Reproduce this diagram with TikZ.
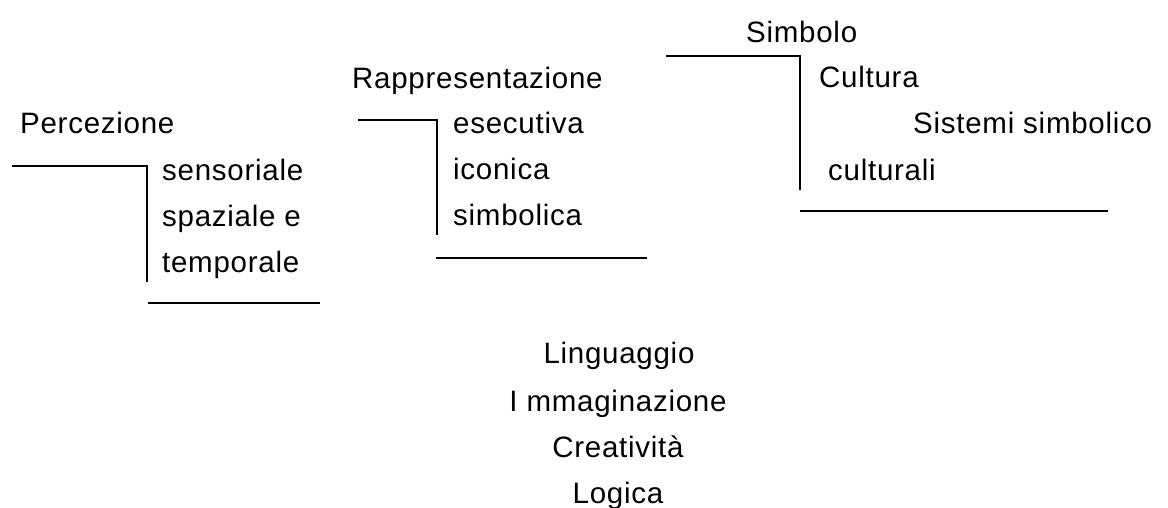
\documentclass[tikz,border=0pt]{standalone}
\usepackage{fontspec}
\setmainfont[LetterSpace=2.5]{Liberation Sans}
\usepackage{tikz}
\usetikzlibrary{positioning}
\tikzstyle{word} = [
    anchor=base west,
    inner sep=0pt,
    font=\fontsize{29.5}{32}\selectfont
]
\tikzstyle{word_mid} = [
    anchor=base,
    inner sep=0pt,
    font=\fontsize{29.5}{32}\selectfont
]
\tikzstyle{rule_line} = [
    draw=black,
    line width=1.6pt
]

\begin{document}
\begin{tikzpicture}[x=1pt, y=-1pt]
\useasboundingbox (0,0) rectangle (1168,507);

% Percezione
\node [word] (perc) at (20,133) {Percezione};
\node [word] (sens) at (162,180) {sensoriale};
\node [word] (spaz) at (162,226) {spaziale e};
\node [word] (temp) at (162,272) {temporale};
\coordinate (p_a) at (12,166);
\coordinate (p_b) at (147,166);
\coordinate (p_c) at (147,282);
\coordinate (p_d) at (148,303);
\coordinate (p_e) at (320,303);
\draw [rule_line] (p_a) -- (p_b) -- (p_c);
\draw [rule_line] (p_d) -- (p_e);

% Rappresentazione
\node [word] (rapp) at (352,88) {Rappresentazione};
\node [word] (esec) at (453,133) {esecutiva};
\node [word] (icon) at (453,179) {iconica};
\node [word] (simb) at (453,225) {simbolica};
\coordinate (r_a) at (358,120);
\coordinate (r_b) at (437,120);
\coordinate (r_c) at (437,235);
\coordinate (r_d) at (436,258);
\coordinate (r_e) at (647,258);
\draw [rule_line] (r_a) -- (r_b) -- (r_c);
\draw [rule_line] (r_d) -- (r_e);

% Simbolo
\node [word] (simbolo) at (746,42) {Simbolo};
\node [word] (cult) at (819,87) {Cultura};
\node [word] (sist) at (913,133) {Sistemi simbolico};
\node [word] (cultur) at (828,180) {culturali};
\coordinate (s_a) at (666,56);
\coordinate (s_b) at (800,56);
\coordinate (s_c) at (800,190);
\coordinate (s_d) at (800,211);
\coordinate (s_e) at (1108,211);
\draw [rule_line] (s_a) -- (s_b) -- (s_c);
\draw [rule_line] (s_d) -- (s_e);

% funzioni
\node [word_mid] (ling) at (619,363) {Linguaggio};
\node [word_mid] (imm) at (618,411) {I mmaginazione};
\node [word_mid] (crea) at (618,457) {Creatività};
\node [word_mid] (logi) at (618,503) {Logica};
\end{tikzpicture}
\end{document}
